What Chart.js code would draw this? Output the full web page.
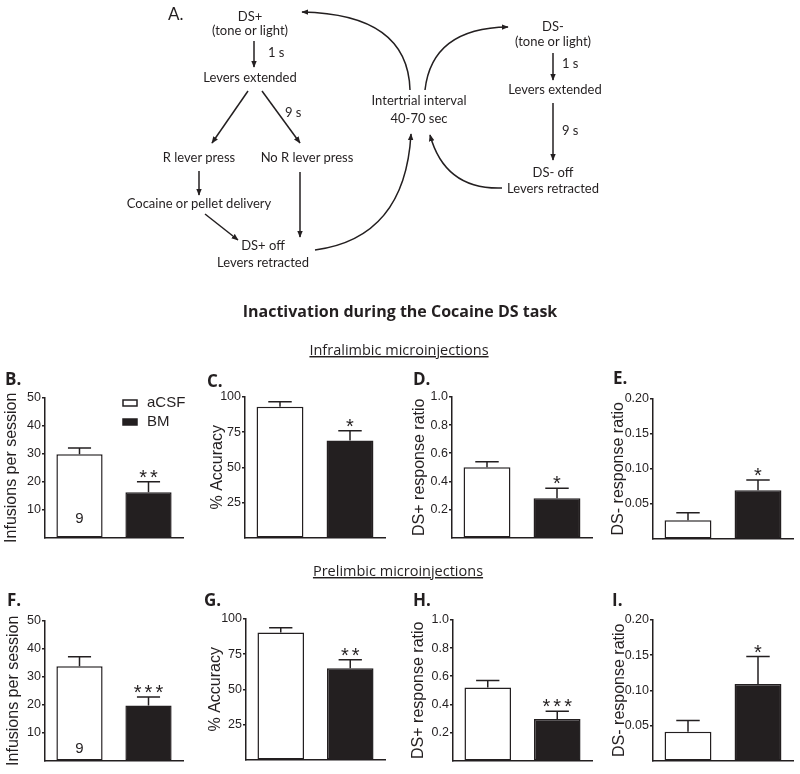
<!DOCTYPE html>
<html lang="en">
<head>
<meta charset="UTF-8">
<title>Inactivation during the Cocaine DS task</title>
<script src="https://cdn.jsdelivr.net/npm/chart.js@4"></script>
<style>
  body { margin: 0; background: #fff; }
  #page { position: relative; width: 800px; height: 774px; overflow: hidden; }
  #page canvas { position: absolute; }
  #overlay { position: absolute; left: 0; top: 0; pointer-events: none; }
  #overlay text { fill: #231f20; }
  .flow { font-family: Lato, sans-serif; font-size: 13px; }
  .head { font-family: "Open Sans", sans-serif; }
  .letter { font-family: "Open Sans", sans-serif; font-weight: 700; font-size: 17px; }
  .arrow { stroke: #231f20; stroke-width: 1.5; fill: none; }
</style>
</head>
<body>
<div id="page">
  <svg id="overlay" width="800" height="774">
    <defs>
      <marker id="ah" viewBox="0 0 10 10" refX="9" refY="5" markerWidth="7" markerHeight="7" markerUnits="userSpaceOnUse" orient="auto">
        <path d="M0,1 L10,5 L0,9 z" fill="#231f20"/>
      </marker>
    </defs>

    <!-- A. trial flow, DS+ side -->
    <text class="flow" x="168" y="20" style="font-size:17px">A.</text>
    <text class="flow" x="250" y="21" text-anchor="middle">DS+</text>
    <text class="flow" x="250" y="35" text-anchor="middle">(tone or light)</text>
    <line class="arrow" x1="254" y1="41" x2="254" y2="67" marker-end="url(#ah)"/>
    <text class="flow" x="268" y="57">1 s</text>
    <text class="flow" x="250" y="82" text-anchor="middle">Levers extended</text>
    <line class="arrow" x1="248" y1="91" x2="212" y2="143" marker-end="url(#ah)"/>
    <line class="arrow" x1="262" y1="91" x2="300" y2="143" marker-end="url(#ah)"/>
    <text class="flow" x="285" y="117">9 s</text>
    <text class="flow" x="199" y="162" text-anchor="middle">R lever press</text>
    <text class="flow" x="307" y="162" text-anchor="middle">No R lever press</text>
    <line class="arrow" x1="199" y1="171" x2="199" y2="195" marker-end="url(#ah)"/>
    <text class="flow" x="199" y="208" text-anchor="middle">Cocaine or pellet delivery</text>
    <line class="arrow" x1="205" y1="214" x2="238" y2="240" marker-end="url(#ah)"/>
    <line class="arrow" x1="300" y1="172" x2="300" y2="237" marker-end="url(#ah)"/>
    <text class="flow" x="263" y="250" text-anchor="middle">DS+ off</text>
    <text class="flow" x="263" y="267" text-anchor="middle">Levers retracted</text>

    <!-- intertrial interval and loops -->
    <text class="flow" x="419" y="105" text-anchor="middle">Intertrial interval</text>
    <text class="flow" x="419" y="123" text-anchor="middle">40-70 sec</text>
    <path class="arrow" d="M410,90 Q408,14 302,12" marker-end="url(#ah)"/>
    <path class="arrow" d="M425,90 Q432,28 508,27" marker-end="url(#ah)"/>
    <path class="arrow" d="M315,250 Q405,238 411,134" marker-end="url(#ah)"/>
    <path class="arrow" d="M502,188 Q445,190 430,135" marker-end="url(#ah)"/>

    <!-- DS- side -->
    <text class="flow" x="553" y="31" text-anchor="middle">DS-</text>
    <text class="flow" x="553" y="46" text-anchor="middle">(tone or light)</text>
    <line class="arrow" x1="553" y1="53" x2="553" y2="80" marker-end="url(#ah)"/>
    <text class="flow" x="562" y="68">1 s</text>
    <text class="flow" x="555" y="94" text-anchor="middle">Levers extended</text>
    <line class="arrow" x1="553" y1="103" x2="553" y2="160" marker-end="url(#ah)"/>
    <text class="flow" x="562" y="135">9 s</text>
    <text class="flow" x="553" y="177" text-anchor="middle">DS- off</text>
    <text class="flow" x="553" y="193" text-anchor="middle">Levers retracted</text>

    <!-- headings -->
    <text class="head" x="400" y="317" text-anchor="middle" style="font-weight:700;font-size:16px">Inactivation during the Cocaine DS task</text>
    <text class="head" x="399" y="355" text-anchor="middle" text-decoration="underline" style="font-size:14.5px">Infralimbic microinjections</text>
    <text class="head" x="398" y="576" text-anchor="middle" text-decoration="underline" style="font-size:14.5px">Prelimbic microinjections</text>

    <!-- panel letters -->
    <text class="letter" x="5" y="385">B.</text>
    <text class="letter" x="207" y="387">C.</text>
    <text class="letter" x="413" y="385">D.</text>
    <text class="letter" x="613" y="384">E.</text>
    <text class="letter" x="7" y="606">F.</text>
    <text class="letter" x="204" y="606">G.</text>
    <text class="letter" x="413" y="606">H.</text>
    <text class="letter" x="612" y="606">I.</text>
  </svg>
</div>

<script>
// ---- data ----
const groups = ['aCSF', 'BM'];

// infralimbic
const infusionsIL = [29.8, 16.2];
const infusionsILsem = [2.3, 3.8];
const accuracyIL = [93, 69];
const accuracyILsem = [3.6, 7];
const dsPlusIL = [0.50, 0.28];
const dsPlusILsem = [0.04, 0.07];
const dsMinusIL = [0.026, 0.069];
const dsMinusILsem = [0.011, 0.015];

// prelimbic
const infusionsPL = [33.8, 19.7];
const infusionsPLsem = [3.4, 3.1];
const accuracyPL = [90.4, 65];
const accuracyPLsem = [3.4, 6];
const dsPlusPL = [0.52, 0.295];
const dsPlusPLsem = [0.05, 0.055];
const dsMinusPL = [0.041, 0.109];
const dsMinusPLsem = [0.016, 0.039];

// significance marks
const starsInfusionsIL = ['', '**'];
const starsAccuracyIL = ['', '*'];
const starsDsPlusIL = ['', '*'];
const starsDsMinusIL = ['', '*'];
const starsInfusionsPL = ['', '***'];
const starsAccuracyPL = ['', '**'];
const starsDsPlusPL = ['', '***'];
const starsDsMinusPL = ['', '*'];

const nRats = '9';

// y tick labels
const infusionTicks = [10, 20, 30, 40, 50];
const accuracyTicks = [25, 50, 75, 100];
const dsPlusTicks = [0.2, 0.4, 0.6, 0.8, 1.0];
const dsMinusTicks = [0.05, 0.10, 0.15, 0.20];

const ink = '#231f20';
const fills = ['#ffffff', '#231f20'];
const axisFont = '"Liberation Sans", Arial, sans-serif';

// error bars, stars, n and the legend
const extras = {
    id: 'extras',
    afterDatasetsDraw(chart, args, opts) {
        const ctx = chart.ctx;
        const y = chart.scales.y;
        const vals = chart.data.datasets[0].data;
        const bars = chart.getDatasetMeta(0).data;
        ctx.save();
        ctx.strokeStyle = ink;
        ctx.fillStyle = ink;
        ctx.lineWidth = 1.5;
        bars.forEach((bar, i) => {
            const top = y.getPixelForValue(vals[i] + opts.sem[i]);
            const cap = bar.width * 0.25;
            ctx.beginPath();
            ctx.moveTo(bar.x, bar.y);
            ctx.lineTo(bar.x, top);
            ctx.moveTo(bar.x - cap, top);
            ctx.lineTo(bar.x + cap, top);
            ctx.stroke();
            if (opts.stars[i]) {
                ctx.font = '20px ' + axisFont;
                ctx.textAlign = 'center';
                ctx.textBaseline = 'alphabetic';
                ctx.letterSpacing = '3px';
                ctx.fillText(opts.stars[i], bar.x + 1.5, top + 2);
                ctx.letterSpacing = '0px';
            }
        });
        if (opts.n) {
            ctx.font = '15px ' + axisFont;
            ctx.textAlign = 'center';
            ctx.textBaseline = 'middle';
            ctx.fillText(opts.n, bars[0].x, chart.chartArea.bottom - opts.nY);
        }
        if (opts.legend) {
            const a = chart.chartArea;
            const lx = a.left + 78, ly = a.top + 2;
            ctx.font = '15px ' + axisFont;
            ctx.textAlign = 'left';
            ctx.textBaseline = 'middle';
            chart.data.labels.forEach((lab, i) => {
                const by = ly + i * 19;
                ctx.fillStyle = fills[i];
                ctx.fillRect(lx, by, 14, 6);
                ctx.strokeRect(lx, by, 14, 6);
                ctx.fillStyle = ink;
                ctx.fillText(lab, lx + 24, by + 3);
            });
        }
        ctx.restore();
    }
};

// one entry per panel: data plus where its axes sit on the page
const panels = [
    {values: infusionsIL, sem: infusionsILsem, stars: starsInfusionsIL, ticks: infusionTicks, dec: 0,
     title: 'Infusions per session', x: 0, axis: 45, right: 183, top: 398, bottom: 543, titleX: 12, n: nRats, nY: 19, legend: true},
    {values: accuracyIL, sem: accuracyILsem, stars: starsAccuracyIL, ticks: accuracyTicks, dec: 0,
     title: '% Accuracy', x: 200, axis: 245, right: 385, top: 397, bottom: 543, titleX: 218},
    {values: dsPlusIL, sem: dsPlusILsem, stars: starsDsPlusIL, ticks: dsPlusTicks, dec: 1,
     title: 'DS+ response ratio', x: 400, axis: 452, right: 592, top: 397, bottom: 543, titleX: 420},
    {values: dsMinusIL, sem: dsMinusILsem, stars: starsDsMinusIL, ticks: dsMinusTicks, dec: 2,
     title: 'DS- response ratio', x: 600, axis: 653, right: 793, top: 399, bottom: 544, titleX: 619},
    {values: infusionsPL, sem: infusionsPLsem, stars: starsInfusionsPL, ticks: infusionTicks, dec: 0,
     title: 'Infusions per session', x: 0, axis: 45, right: 183, top: 621, bottom: 766, titleX: 14, n: nRats, nY: 12},
    {values: accuracyPL, sem: accuracyPLsem, stars: starsAccuracyPL, ticks: accuracyTicks, dec: 0,
     title: '% Accuracy', x: 200, axis: 246, right: 385, top: 619, bottom: 765, titleX: 216},
    {values: dsPlusPL, sem: dsPlusPLsem, stars: starsDsPlusPL, ticks: dsPlusTicks, dec: 1,
     title: 'DS+ response ratio', x: 400, axis: 453, right: 592, top: 620, bottom: 766, titleX: 419},
    {values: dsMinusPL, sem: dsMinusPLsem, stars: starsDsMinusPL, ticks: dsMinusTicks, dec: 2,
     title: 'DS- response ratio', x: 600, axis: 653, right: 793, top: 620, bottom: 766, titleX: 620}
];

const page = document.getElementById('page');

panels.forEach(p => {
    const padTop = 10, padBottom = 3, padRight = 5;
    const canvas = document.createElement('canvas');
    canvas.width = p.right + padRight - p.x;
    canvas.height = p.bottom - p.top + padTop + padBottom;
    canvas.style.left = p.x + 'px';
    canvas.style.top = (p.top - padTop) + 'px';
    page.insertBefore(canvas, page.firstChild);

    new Chart(canvas, {
        type: 'bar',
        data: {
            labels: groups,
            datasets: [{
                data: p.values,
                backgroundColor: fills,
                borderColor: ink,
                borderWidth: 1.5,
                borderSkipped: false,
                barPercentage: 0.67,
                categoryPercentage: 1
            }]
        },
        options: {
            responsive: false,
            animation: false,
            events: [],
            layout: { padding: { top: padTop, right: padRight, bottom: padBottom, left: 0 } },
            plugins: {
                legend: { display: false },
                tooltip: { enabled: false },
                extras: { sem: p.sem, stars: p.stars, n: p.n, nY: p.nY, legend: p.legend }
            },
            scales: {
                x: {
                    grid: { display: false, drawTicks: false },
                    ticks: { display: false },
                    border: { color: ink, width: 1.5 },
                    afterFit: s => { s.height = 0; }
                },
                y: {
                    min: 0,
                    max: p.ticks[p.ticks.length - 1],
                    afterBuildTicks: s => { s.ticks = p.ticks.map(v => ({ value: v })); },
                    ticks: {
                        callback: v => Number(v).toFixed(p.dec),
                        color: ink,
                        padding: 1,
                        font: { family: axisFont, size: 12.5 }
                    },
                    grid: { drawOnChartArea: false, tickLength: 3, color: ink, lineWidth: 1.5 },
                    border: { color: ink, width: 1.5 },
                    title: {
                        display: true,
                        text: p.title,
                        color: ink,
                        font: { family: axisFont, size: 16, lineHeight: 1.2 },
                        padding: { top: p.titleX - p.x - 9.6, bottom: 0 }
                    },
                    afterFit: s => { s.width = p.axis - p.x; }
                }
            }
        },
        plugins: [extras]
    });
});
</script>
</body>
</html>
